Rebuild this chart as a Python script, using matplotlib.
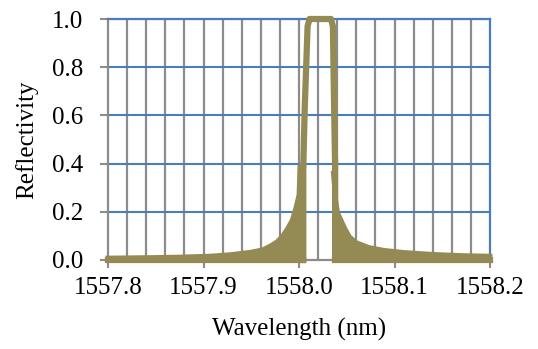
import matplotlib
matplotlib.use("Agg")
import matplotlib.pyplot as plt
import numpy as np

# Sidelobe envelope, left of the main lobe (wavelength nm, reflectivity)
left_wl = [1557.800, 1557.844, 1557.875, 1557.907, 1557.928, 1557.949, 1557.962,
           1557.970, 1557.977, 1557.983, 1557.988, 1557.993, 1557.997, 1558.000,
           1558.001, 1558.005]
left_r = [0.008, 0.010, 0.012, 0.016, 0.022, 0.032, 0.042,
          0.058, 0.075, 0.100, 0.130, 0.165, 0.220, 0.270,
          0.390, 0.390]

# Sidelobe envelope, right of the main lobe
right_wl = [1558.036, 1558.0385, 1558.0405, 1558.044, 1558.048, 1558.053, 1558.060,
            1558.073, 1558.089, 1558.110, 1558.141, 1558.173, 1558.200]
right_r = [0.360, 0.245, 0.195, 0.165, 0.130, 0.095, 0.072,
           0.052, 0.040, 0.031, 0.023, 0.018, 0.016]

# Main reflection band outline
main_wl = [1558.0045, 1558.0045, 1558.0060, 1558.0090, 1558.0110, 1558.0335,
           1558.0355, 1558.0368, 1558.0378, 1558.0378]
main_r = [0.0, 0.39, 0.63, 0.97, 1.0, 1.0, 0.97, 0.63, 0.39, 0.02]

x_ticks = [1557.8, 1557.9, 1558.0, 1558.1, 1558.2]
x_ticklabels = ["1557.8", "1557.9", "1558.0", "1558.1", "1558.2"]
y_ticks = [0.0, 0.2, 0.4, 0.6, 0.8, 1.0]
y_ticklabels = ["0.0", "0.2", "0.4", "0.6", "0.8", "1.0"]
x_grid = [1557.82, 1557.84, 1557.86, 1557.88, 1557.90, 1557.92, 1557.94, 1557.96,
          1557.98, 1558.00, 1558.02, 1558.04, 1558.06, 1558.08, 1558.10, 1558.12,
          1558.14, 1558.16, 1558.18]

plt.rcParams['font.family'] = ['Liberation Serif', 'DejaVu Serif']

W, H = 538, 349
fig = plt.figure(figsize=(W / 100, H / 100), dpi=100)
ax = fig.add_axes([108 / W, 1 - 260 / H, (490 - 108) / W, (260 - 19) / H])

curve = '#948A54'
gray = '#8C8C8C'
blue = '#4A7EBB'

ax.set_xlim(1557.8, 1558.2)
ax.set_ylim(0, 1)

for g in x_grid:
    ax.axvline(g, color=gray, lw=1.6, zorder=1)
for y in y_ticks[1:]:
    ax.axhline(y, color=blue, lw=1.5, zorder=1)

ax.fill_between(left_wl, 0, left_r, color=curve, lw=0, zorder=3)
ax.plot(left_wl, left_r, color=curve, lw=3.5, zorder=3, clip_on=False,
        solid_joinstyle='round')
ax.fill_between(right_wl, 0, right_r, color=curve, lw=0, zorder=3)
ax.plot(right_wl, right_r, color=curve, lw=3.5, zorder=3, clip_on=False,
        solid_joinstyle='round')
ax.plot([left_wl[0], main_wl[0]], [0, 0], color=curve, lw=4.5, zorder=3,
        clip_on=False)
ax.plot([main_wl[-1], right_wl[-1]], [0, 0], color=curve, lw=4.5, zorder=3,
        clip_on=False)
ax.plot(main_wl, main_r, color=curve, lw=4.5, zorder=4, clip_on=False,
        solid_joinstyle='round')

for s in ['top', 'right']:
    ax.spines[s].set_color(blue)
    ax.spines[s].set_linewidth(1.6)
for s in ['left', 'bottom']:
    ax.spines[s].set_color(gray)
    ax.spines[s].set_linewidth(1.6)
ax.spines['bottom'].set_zorder(2)

ax.set_xticks(x_ticks)
ax.set_xticklabels(x_ticklabels)
ax.set_yticks(y_ticks)
ax.set_yticklabels(y_ticklabels)
ax.tick_params(axis='both', colors=gray, labelcolor='black', labelsize=18,
               width=1.5, length=6)
ax.tick_params(axis='x', pad=6)
ax.tick_params(axis='y', pad=12)

ax.set_xlabel('Wavelength (nm)', fontsize=18, labelpad=14)
ax.set_ylabel('Reflectivity', fontsize=18, labelpad=10)

fig.savefig('out.png', dpi=100)
